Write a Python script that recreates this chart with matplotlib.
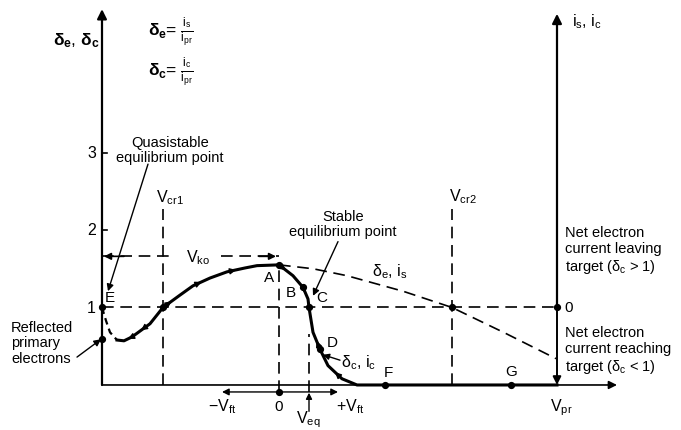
#!/usr/bin/env python3
# -*- coding: utf-8 -*-

import matplotlib
matplotlib.use('Agg')
import matplotlib.pyplot as plt

plt.rcParams['font.family'] = ['Liberation Sans', 'DejaVu Sans']
plt.rcParams['mathtext.fontset'] = 'custom'
plt.rcParams['mathtext.rm'] = 'Liberation Sans'
plt.rcParams['mathtext.it'] = 'Liberation Sans'
plt.rcParams['mathtext.bf'] = 'Liberation Sans:bold'

# target voltage V_pr (arbitrary units, 0 at point A) and yield delta
v_left_axis = -17.7
v_right_axis = 27.8
v_axis_end = 33.8
d_axis_top = 4.85
v_cr1 = -11.6
v_cr2 = 17.3
v_eq = 3.0
v_ft = [-5.7, 5.9]
v_ko_level = 1.66
v_f = 10.6
v_g = 23.2

# reflected primaries branch (dashed), from E down to the minimum
refl_v = [-17.7, -17.3, -16.9, -16.2]
refl_d = [1.0, 0.83, 0.68, 0.58]

# delta_c, i_c (solid curve)
dc_v = [-16.2, -15.5, -14.7, -12.9, -11.6, -9.9, -8.6, -6.9, -5.2, -3.4,
        -2.2, 0.0, 1.4, 2.4, 2.9, 3.0, 3.4, 4.1, 4.9, 6.3, 7.8, 27.8]
dc_d = [0.58, 0.57, 0.62, 0.79, 1.0, 1.16, 1.28, 1.38, 1.46, 1.51,
        1.54, 1.55, 1.41, 1.26, 1.11, 1.0, 0.68, 0.46, 0.25, 0.08, 0.0, 0.0]

# delta_e, i_s (dashed curve)
de_v = [0.0, 3.4, 6.8, 12.4, 17.3, 22.6, 27.7]
de_d = [1.55, 1.50, 1.41, 1.21, 1.0, 0.67, 0.34]

# direction arrows on the curve: (from index, to index)
curve_arrows = [(2, 1), (3, 2), (4, 5), (6, 7), (8, 9),
                (11, 12), (13, 14), (17, 16), (19, 18)]

yticks = [1, 2, 3]

fig = plt.figure(figsize=(6.81, 4.31), dpi=100)
ax = fig.add_axes([0, 0, 1, 1])
ax.set_xlim(-27.9, 40.2)
ax.set_ylim(-0.581, 4.981)
ax.set_axis_off()

k = 'black'
dash = (0, (7, 4))
fs = 10.5


def arrow(p0, p1, lw=1.2, ms=10):
    ax.annotate('', xy=p1, xytext=p0,
                arrowprops=dict(arrowstyle='-|>', color=k, lw=lw,
                                mutation_scale=ms, shrinkA=0, shrinkB=0))


# axes
arrow((v_left_axis, 0), (v_left_axis, d_axis_top), lw=1.6, ms=14)
arrow((v_left_axis, 0), (v_axis_end, 0), lw=1.2, ms=12)
arrow((v_right_axis, 1.0), (v_right_axis, 4.79), lw=1.6, ms=14)
arrow((v_right_axis, 1.0), (v_right_axis, 0.0), lw=1.4, ms=12)
for t in yticks[1:]:
    ax.plot([v_left_axis, v_left_axis + 0.5], [t, t], color=k, lw=1.2)
for t in yticks:
    ax.text(v_left_axis - 0.6, t, str(t), ha='right', va='center', fontsize=fs + 1)

# dashed guide lines
ax.plot([v_left_axis, v_right_axis], [1, 1], color=k, lw=1.2, ls=dash)
ax.plot([v_cr1, v_cr1], [0, 2.27], color=k, lw=1.2, ls=dash)
ax.plot([v_cr2, v_cr2], [0, 2.27], color=k, lw=1.2, ls=dash)
ax.plot([0, 0], [-0.09, dc_d[11]], color=k, lw=1.2, ls=dash)
ax.plot([v_eq, v_eq], [-0.09, 0.66], color=k, lw=1.2, ls=dash)
ax.plot([v_left_axis, -10.4], [v_ko_level] * 2, color=k, lw=1.2, ls=dash)
ax.plot([-5.8, 0], [v_ko_level] * 2, color=k, lw=1.2, ls=dash)
arrow((-15.5, v_ko_level), (v_left_axis + 0.2, v_ko_level), lw=1.2, ms=10)
arrow((-2.0, v_ko_level), (-0.3, v_ko_level), lw=1.2, ms=10)

# curves
ax.plot(refl_v, refl_d, color=k, lw=1.6, ls=(0, (3, 2)))
ax.plot(dc_v, dc_d, color=k, lw=2.2, solid_joinstyle='round')
ax.plot(de_v, de_d, color=k, lw=1.2, ls=dash)
for i, j in curve_arrows:
    mid = ((dc_v[i] + dc_v[j]) / 2, (dc_d[i] + dc_d[j]) / 2)
    arrow((dc_v[i], dc_d[i]), mid, lw=1.0, ms=9)

# points
pts_v = [v_left_axis, v_left_axis, v_cr1, 0.0, dc_v[13], v_eq, dc_v[17],
         v_f, v_g, v_cr2, v_right_axis, 0.0]
pts_d = [1.0, 0.59, 1.0, dc_d[11], dc_d[13], 1.0, dc_d[17],
         0.0, 0.0, 1.0, 1.0, -0.09]
ax.plot(pts_v, pts_d, 'o', color=k, ms=4.2)

# V_ft arrows and V_eq marker
arrow((0, -0.09), (v_ft[0], -0.09), lw=1.0, ms=10)
arrow((0, -0.09), (v_ft[1], -0.09), lw=1.0, ms=10)
arrow((v_eq, -0.34), (v_eq, -0.10), lw=1.0, ms=9)

# labels
ax.text(-20.3, 4.46, r'$\mathbf{δ_e}$, $\mathbf{δ_c}$',
        ha='center', va='center', fontsize=fs + 2)
ax.text(-13.1, 4.57, r'$\mathbf{δ_e}$= $\mathregular{\frac{i_s}{i_{pr}}}$',
        ha='left', va='center', fontsize=fs + 2)
ax.text(-13.1, 4.05, r'$\mathbf{δ_c}$= $\mathregular{\frac{i_c}{i_{pr}}}$',
        ha='left', va='center', fontsize=fs + 2)
ax.text(29.3, 4.70, r'$\mathregular{i_s}$, $\mathregular{i_c}$',
        ha='left', va='center', fontsize=fs + 1)

ax.text(-10.9, 3.04, 'Quasistable\nequilibrium point', ha='center',
        va='center', fontsize=fs, linespacing=1.1)
ax.annotate('', xy=(-17.1, 1.21), xytext=(-13.1, 2.85),
            arrowprops=dict(arrowstyle='-|>', color=k, lw=1.0,
                            mutation_scale=10, shrinkA=0, shrinkB=0))
ax.text(-26.8, 0.55, 'Reflected\nprimary\nelectrons', ha='left',
        va='center', fontsize=fs, linespacing=1.15)
ax.annotate('', xy=(-17.8, 0.59), xytext=(-20.2, 0.36),
            arrowprops=dict(arrowstyle='-|>', color=k, lw=1.0,
                            mutation_scale=10, shrinkA=0, shrinkB=0))
ax.text(-10.9, 2.43, r'$\mathregular{V_{cr1}}$', ha='center', va='center', fontsize=fs + 1)
ax.text(18.4, 2.44, r'$\mathregular{V_{cr2}}$', ha='center', va='center', fontsize=fs + 1)
ax.text(-8.1, v_ko_level, r'$\mathregular{V_{ko}}$', ha='center', va='center', fontsize=fs + 1)

ax.text(6.4, 2.08, 'Stable\nequilibrium point', ha='center', va='center',
        fontsize=fs, linespacing=1.1)
ax.annotate('', xy=(3.4, 1.15), xytext=(5.9, 1.85),
            arrowprops=dict(arrowstyle='-|>', color=k, lw=1.0,
                            mutation_scale=10, shrinkA=0, shrinkB=0))

for s, x, y in [('E', -16.9, 1.14), ('A', -1.0, 1.39), ('B', 1.2, 1.20),
                ('C', 4.3, 1.14), ('D', 5.3, 0.55), ('F', 10.9, 0.17),
                ('G', 23.2, 0.18)]:
    ax.text(x, y, s, ha='center', va='center', fontsize=fs + 0.5)

ax.text(6.2, 0.30, r'$\mathregular{δ_c}$, $\mathregular{i_c}$', ha='left',
        va='center', fontsize=fs + 1)
ax.annotate('', xy=(4.4, 0.39), xytext=(6.1, 0.32),
            arrowprops=dict(arrowstyle='-|>', color=k, lw=1.0,
                            mutation_scale=9, shrinkA=0, shrinkB=0))
ax.text(11.1, 1.47, r'$\mathregular{δ_e}$, $\mathregular{i_s}$', ha='center',
        va='center', fontsize=fs + 1)

ax.text(28.6, 1.74, 'Net electron\ncurrent leaving\ntarget ($\\mathregular{δ_c}$ > 1)',
        ha='left', va='center', fontsize=fs, linespacing=1.15)
ax.text(28.5, 1.0, '0', ha='left', va='center', fontsize=fs + 0.5)
ax.text(28.6, 0.45, 'Net electron\ncurrent reaching\ntarget ($\\mathregular{δ_c}$ < 1)',
        ha='left', va='center', fontsize=fs, linespacing=1.15)
ax.text(28.2, -0.28, r'$\mathregular{V_{pr}}$', ha='center', va='center', fontsize=fs + 1)

ax.text(-5.7, -0.27, r'$\mathregular{-V_{ft}}$', ha='center', va='center', fontsize=fs + 1)
ax.text(0.0, -0.27, '0', ha='center', va='center', fontsize=fs + 0.5)
ax.text(7.1, -0.27, r'$\mathregular{+V_{ft}}$', ha='center', va='center', fontsize=fs + 1)
ax.text(2.9, -0.435, r'$\mathregular{V_{eq}}$', ha='center', va='center', fontsize=fs + 1)

fig.savefig('out.png', dpi=100, facecolor='white')
